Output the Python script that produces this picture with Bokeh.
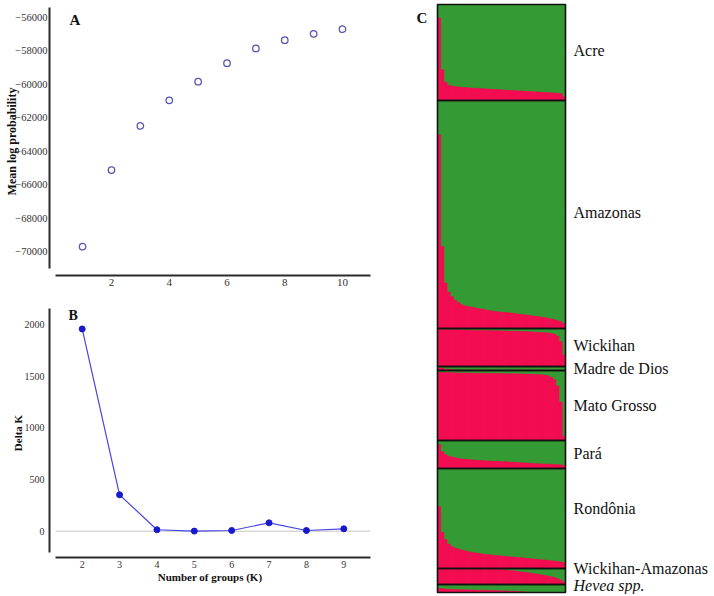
from bokeh.plotting import figure
from bokeh.layouts import row, column
from bokeh.models import Range1d, FixedTicker, Label, ColumnDataSource
from bokeh.core.properties import value, field
from bokeh.embed import file_html
from bokeh.resources import INLINE

# ---------------- data ----------------
# Panel A: mean log probability per K
k_values = [1, 2, 3, 4, 5, 6, 7, 8, 9, 10]
mean_log_prob = [-69710, -65130, -62490, -60955, -59840, -58730, -57850, -57355, -56975, -56700]
a_xticks = [2, 4, 6, 8, 10]
a_yticks = [-70000, -68000, -66000, -64000, -62000, -60000, -58000, -56000]

# Panel B: Delta K per K
k_delta = [2, 3, 4, 5, 6, 7, 8, 9]
delta_k = [1957, 352, 14, 1, 7, 81, 7, 23]
b_xticks = [2, 3, 4, 5, 6, 7, 8, 9]
b_yticks = [0, 500, 1000, 1500, 2000]

# Panel C: STRUCTURE membership (red cluster share, sorted) per population
populations = ["Acre", "Amazonas", "Wickihan", "Madre de Dios", "Mato Grosso",
               "Pará", "Rondônia", "Wickihan-Amazonas", "Hevea spp."]
label_styles = ["normal", "normal", "normal", "normal", "normal",
                "normal", "normal", "normal", "italic"]
sample_sizes = [48, 114, 19, 2, 35, 14, 50, 8, 4]

q_acre = [0.86, 0.32, 0.19, 0.16, 0.15, 0.145, 0.14, 0.138, 0.135, 0.132,
          0.13, 0.128, 0.126, 0.124, 0.122, 0.12, 0.118, 0.116, 0.114, 0.112,
          0.11, 0.108, 0.106, 0.104, 0.102, 0.1, 0.098, 0.096, 0.094, 0.092,
          0.09, 0.088, 0.086, 0.084, 0.082, 0.08, 0.078, 0.076, 0.072, 0.04]
q_amazonas = [0.85, 0.36, 0.2, 0.16, 0.14, 0.125, 0.115, 0.105, 0.1, 0.097,
              0.094, 0.091, 0.088, 0.086, 0.084, 0.08, 0.078, 0.076, 0.074, 0.072,
              0.071, 0.07, 0.069, 0.067, 0.065, 0.063, 0.061, 0.06, 0.058, 0.056,
              0.054, 0.052, 0.05, 0.048, 0.045, 0.042, 0.039, 0.035, 0.03, 0.022]
q_wickihan = [0.98, 0.975, 0.97, 0.97, 0.97, 0.965, 0.965, 0.96, 0.96, 0.96,
              0.955, 0.955, 0.95, 0.95, 0.95, 0.945, 0.945, 0.94, 0.94, 0.94,
              0.935, 0.935, 0.93, 0.93, 0.93, 0.925, 0.92, 0.92, 0.915, 0.91,
              0.905, 0.9, 0.895, 0.89, 0.885, 0.87, 0.85, 0.8, 0.65, 0.3]
q_madre = [0.6, 0.3, 0.2, 0.15, 0.12, 0.1, 0.1, 0.09, 0.09, 0.08,
           0.08, 0.07, 0.07, 0.06, 0.06, 0.05, 0.05, 0.04, 0.03, 0.02]
q_mato = [0.975, 0.972, 0.97, 0.97, 0.968, 0.967, 0.966, 0.965, 0.965, 0.964,
          0.963, 0.962, 0.962, 0.961, 0.96, 0.96, 0.959, 0.958, 0.957, 0.957,
          0.956, 0.955, 0.955, 0.954, 0.953, 0.952, 0.951, 0.95, 0.948, 0.946,
          0.944, 0.942, 0.94, 0.935, 0.925, 0.905, 0.87, 0.78, 0.55, 0.06]
q_para = [0.85, 0.6, 0.5, 0.44, 0.41, 0.38, 0.36, 0.34, 0.33, 0.32,
          0.31, 0.3, 0.29, 0.285, 0.28, 0.27, 0.265, 0.26, 0.255, 0.25,
          0.245, 0.24, 0.23, 0.225, 0.22, 0.21, 0.205, 0.2, 0.19, 0.18,
          0.175, 0.17, 0.165, 0.16, 0.155, 0.15, 0.145, 0.14, 0.13, 0.1]
q_rondonia = [0.62, 0.36, 0.29, 0.245, 0.22, 0.205, 0.195, 0.185, 0.178, 0.17,
              0.163, 0.157, 0.152, 0.147, 0.143, 0.14, 0.136, 0.133, 0.13, 0.127,
              0.124, 0.121, 0.118, 0.115, 0.113, 0.11, 0.107, 0.103, 0.1, 0.097,
              0.094, 0.091, 0.088, 0.085, 0.081, 0.078, 0.074, 0.07, 0.065, 0.06]
q_wick_amaz = [0.98, 0.98, 0.98, 0.98, 0.975, 0.975, 0.975, 0.97, 0.97, 0.97,
               0.97, 0.965, 0.965, 0.965, 0.96, 0.96, 0.96, 0.95, 0.94, 0.93,
               0.92, 0.9, 0.88, 0.86, 0.84, 0.81, 0.78, 0.76, 0.73, 0.7,
               0.67, 0.64, 0.6, 0.57, 0.53, 0.49, 0.43, 0.36, 0.27, 0.15]
q_hevea = [0.5, 0.42, 0.38, 0.35, 0.33, 0.31, 0.29, 0.27, 0.25, 0.23,
           0.2, 0.17, 0.13, 0.08, 0.0, 0.0, 0.0, 0.0, 0.0, 0.0]
profiles = [q_acre, q_amazonas, q_wickihan, q_madre, q_mato,
            q_para, q_rondonia, q_wick_amaz, q_hevea]

# ---------------- styling ----------------
FONT = "Liberation Serif"
AXIS_COLOR = "#2a2a2a"
TICK_COLOR = "#333333"
TITLE_COLOR = "#111111"
GREEN = "#349a34"
RED = "#f70a52"


def style_axes(p, xticks, yticks, tick_size_x, tick_size_y, xbounds, ybounds):
    p.xaxis.ticker = FixedTicker(ticks=xticks)
    p.yaxis.ticker = FixedTicker(ticks=yticks)
    p.xaxis.bounds = xbounds
    p.yaxis.bounds = ybounds
    for ax in (p.xaxis[0], p.yaxis[0]):
        ax.axis_line_color = AXIS_COLOR
        ax.axis_line_width = 2
        ax.major_tick_line_color = None
        ax.minor_tick_line_color = None
        ax.major_tick_out = 0
        ax.major_tick_in = 0
        ax.minor_tick_out = 0
        ax.minor_tick_in = 0
        ax.major_label_text_font = FONT
        ax.major_label_text_color = TICK_COLOR
        ax.axis_label_text_font = FONT
        ax.axis_label_text_font_style = "bold"
        ax.axis_label_text_color = TITLE_COLOR
        ax.axis_label_standoff = 0
    p.xaxis.major_label_text_font_size = tick_size_x
    p.yaxis.major_label_text_font_size = tick_size_y
    p.xaxis.major_label_standoff = 3
    p.grid.visible = False
    p.outline_line_color = None


def add_text(p, x, y, text, size, align="left", baseline="top"):
    p.add_layout(Label(x=x, y=y, text=text, text_font=FONT, text_font_style="bold",
                       text_font_size=size, text_align=align, text_baseline=baseline,
                       text_color=TITLE_COLOR))


# pixel calibration of the reference (page pixels)
def xa(px):
    return 2 + (px - 111) / 28.875


def ya(py):
    return -56000 - (py - 17) * 1000 / 16.714


def xb(px):
    return 2 + (px - 81.7) / 37.371


def yb(py):
    return (530.7 - py) / 0.10335


W_LEFT = 400
H_A = 296
H_TOTAL = 594

# ---------------- panel A ----------------
pA = figure(width=W_LEFT, height=H_A, output_backend="svg", toolbar_location=None,
            x_range=Range1d(xa(49), xa(370)), y_range=Range1d(ya(275), ya(7)),
            min_border_left=49, min_border_right=W_LEFT - 370, min_border_top=7,
            min_border_bottom=H_A - 275)
style_axes(pA, a_xticks, a_yticks, "11px", "10.5px", (xa(55), xa(370)), (ya(268), ya(7)))
pA.yaxis.major_label_standoff = 2
pA.yaxis.axis_label = "Mean log probability"
pA.yaxis.axis_label_text_font_size = "12px"
pA.yaxis.axis_label_standoff = -7
pA.scatter(k_values, mean_log_prob, marker="circle", size=6.5, fill_color=None,
           line_color="#5656b0", line_width=1.3)
add_text(pA, xa(69), ya(11), "A", "15px")

# ---------------- panel B ----------------
H_B = H_TOTAL - H_A
pB = figure(width=W_LEFT, height=H_B, output_backend="svg", toolbar_location=None,
            x_range=Range1d(xb(49), xb(370)), y_range=Range1d(yb(557), yb(308)),
            min_border_left=49, min_border_right=W_LEFT - 370,
            min_border_top=308 - H_A, min_border_bottom=H_TOTAL - 557)
style_axes(pB, b_xticks, b_yticks, "10px", "10px", (xb(55), xb(370)), (yb(552), yb(308)))
pB.yaxis.major_label_standoff = 5
pB.yaxis.axis_label = "Delta K"
pB.yaxis.axis_label_text_font_size = "11px"
pB.yaxis.axis_label_standoff = -2
pB.xaxis.axis_label = "Number of groups (K)"
pB.xaxis.axis_label_text_font_size = "11px"
pB.segment(x0=[xb(55)], y0=[0], x1=[xb(370)], y1=[0], line_color="#c4c4c4", line_width=1)
pB.line(k_delta, delta_k, line_color="#4646e2", line_width=1.2)
pB.scatter(k_delta, delta_k, marker="circle", size=6, fill_color="#1818cc",
           line_color="#1818cc")
add_text(pB, xb(68), yb(307), "B", "14px")

# ---------------- panel C ----------------
total = sum(sample_sizes)
C_LEFT = W_LEFT
c_width = 712 - C_LEFT
box_left_px, box_right_px = 437 - C_LEFT, 565 - C_LEFT
box_top_px, box_bottom_px = 4, 592
box_w_px = box_right_px - box_left_px
ppy = (box_bottom_px - box_top_px) / total


def xc(px):
    return (px - C_LEFT - box_left_px) / box_w_px


def yc(py):
    return (py - box_top_px) / ppy


pC = figure(width=c_width, height=H_TOTAL, output_backend="svg", toolbar_location=None,
            x_range=Range1d(xc(C_LEFT), xc(C_LEFT + c_width)),
            y_range=Range1d(yc(H_TOTAL), yc(0)),
            min_border_left=0, min_border_right=0, min_border_top=0, min_border_bottom=0,
            x_axis_location=None, y_axis_location=None)
pC.grid.visible = False
pC.outline_line_color = None

band_top, band_bottom = [], []
rl, rr, rt, rb = [], [], [], []
cum = 0
for n, q in zip(sample_sizes, profiles):
    band_top.append(cum)
    band_bottom.append(cum + n)
    m = len(q)
    for j, qj in enumerate(q):
        rl.append(j / m)
        rr.append((j + 1) / m)
        rb.append(cum + n)
        rt.append(cum + n - qj * n)
    cum += n

pC.quad(left=0, right=1, top=band_top, bottom=band_bottom, fill_color=GREEN, line_color=None)
pC.quad(left=rl, right=rr, top=rt, bottom=rb, fill_color=RED, line_color=RED, line_width=0.5)
pC.quad(left=0, right=1, top=band_top, bottom=band_bottom, fill_color=None,
        line_color="#111111", line_width=1.6)

# label vertical nudges (px, relative to band centre)
label_nudge_px = [-2, -2, -2, 0, 0, -1, -10, -8, -3]
centers = [(t + b) / 2 + d / ppy for t, b, d in zip(band_top, band_bottom, label_nudge_px)]
lab_src = ColumnDataSource(dict(x=[xc(573)] * len(populations), y=centers,
                                text=populations, style=label_styles))
pC.text(x="x", y="y", text="text", source=lab_src, text_font=value(FONT),
        text_font_size=value("16px"), text_baseline=value("middle"),
        text_align=value("left"), text_font_style=field("style"), text_color="#111111")
add_text(pC, xc(416), yc(9), "C", "15px")

layout = row(column(pA, pB), pC)
open("out.html", "w").write(file_html(layout, INLINE))
